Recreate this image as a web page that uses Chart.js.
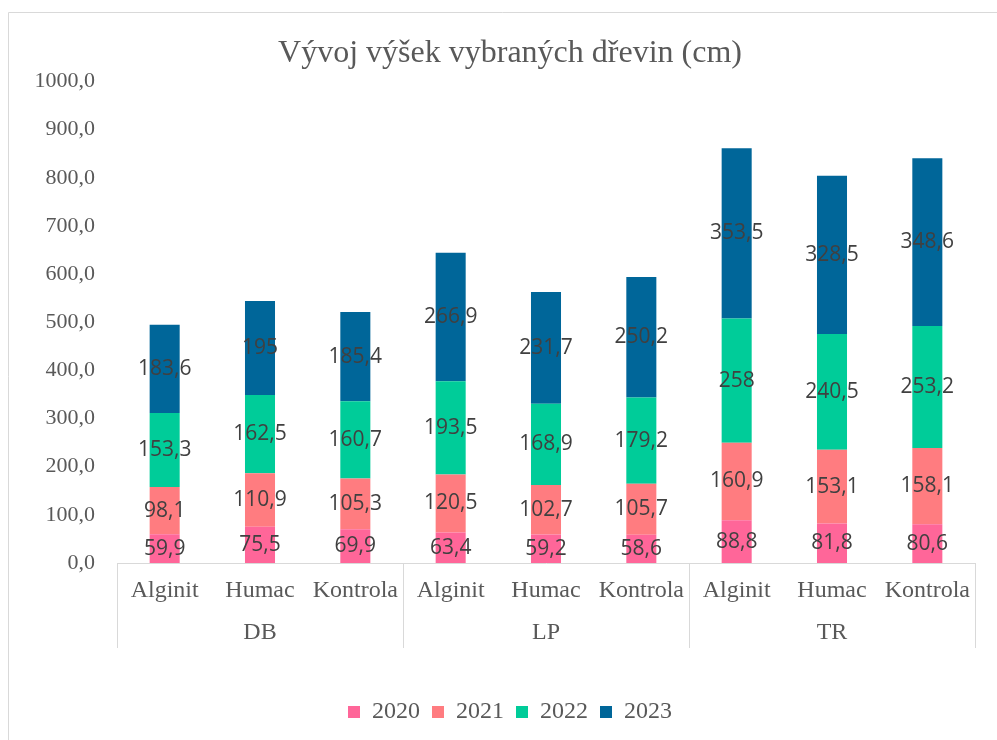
<!DOCTYPE html>
<html>
<head>
<meta charset="utf-8">
<script src="https://cdn.jsdelivr.net/npm/chart.js@4"></script>
<style>
  html, body { margin: 0; padding: 0; background: #fff; }
  #wrap { width: 997px; height: 740px; position: relative; }
</style>
</head>
<body>
<div id="wrap"><canvas id="vyskyChart"></canvas></div>
<script>
// categories (treatments) and species groups
const treatments = ['Alginit', 'Humac', 'Kontrola', 'Alginit', 'Humac', 'Kontrola', 'Alginit', 'Humac', 'Kontrola'];
const groups = ['DB', 'LP', 'TR'];
const years = ['2020', '2021', '2022', '2023'];

// height increments per year (cm)
const h2020 = [59.9, 75.5, 69.9, 63.4, 59.2, 58.6, 88.8, 81.8, 80.6];
const h2021 = [98.1, 110.9, 105.3, 120.5, 102.7, 105.7, 160.9, 153.1, 158.1];
const h2022 = [153.3, 162.5, 160.7, 193.5, 168.9, 179.2, 258, 240.5, 253.2];
const h2023 = [183.6, 195, 185.4, 266.9, 231.7, 250.2, 353.5, 328.5, 348.6];

const yTicks = [0, 100, 200, 300, 400, 500, 600, 700, 800, 900, 1000];

var col_pink = '#FF6699';
var col_salmon = '#FF7C80';
var col_green = '#00CC99';
var col_blue = '#006699';
var axisGray = '#d9d9d9';
var textGray = '#595959';
const serif = "'Liberation Serif', 'Times New Roman', serif";

const fmt = (v) => String(v).replace('.', ',');

// draws the value in the middle of every segment
const segmentLabels = {
    id: 'segmentLabels',
    afterDatasetsDraw(chart) {
        const ctx = chart.ctx;
        ctx.save();
        ctx.font = "21px 'Open Sans', sans-serif";
        ctx.fillStyle = '#404040';
        ctx.textAlign = 'center';
        ctx.textBaseline = 'middle';
        chart.data.datasets.forEach((ds, i) => {
            chart.getDatasetMeta(i).data.forEach((bar, j) => {
                ctx.fillText(fmt(ds.data[j]), bar.x, (bar.y + bar.base) / 2);
            });
        });
        ctx.restore();
    }
};

// y tick labels, group labels under the category axis, separator lines and outer frame
const groupAxis = {
    id: 'groupAxis',
    afterDraw(chart) {
        const ctx = chart.ctx;
        const x = chart.scales.x;
        const y = chart.scales.y;
        const area = chart.chartArea;
        const half = (x.getPixelForValue(1) - x.getPixelForValue(0)) / 2;
        const bottom = area.bottom + 85;
        ctx.save();
        ctx.strokeStyle = axisGray;
        ctx.lineWidth = 1;
        ctx.beginPath();
        for (let g = 0; g <= groups.length; g++) {
            let px;
            if (g < groups.length) px = x.getPixelForValue(g * 3) - half;
            else px = x.getPixelForValue(treatments.length - 1) + half;
            px = Math.round(px) + 0.5;
            ctx.moveTo(px, area.bottom);
            ctx.lineTo(px, bottom);
        }
        // frame of the chart object
        ctx.moveTo(8.5, chart.height);
        ctx.lineTo(8.5, 12.5);
        ctx.lineTo(chart.width, 12.5);
        ctx.stroke();

        ctx.fillStyle = textGray;
        ctx.textBaseline = 'middle';

        ctx.font = '22px ' + serif;
        ctx.textAlign = 'right';
        yTicks.forEach(v => {
            ctx.fillText(v.toFixed(1).replace('.', ','), area.left - 22, y.getPixelForValue(v));
        });

        ctx.font = '24px ' + serif;
        ctx.textAlign = 'center';
        groups.forEach((g, k) => {
            const cx = x.getPixelForValue(k * 3 + 1);
            ctx.fillText(g, cx, area.bottom + 70);
        });
        ctx.restore();
    }
};

const config = {
    type: 'bar',
    data: {
        labels: treatments,
        datasets: [
            { label: years[0], data: h2020, backgroundColor: col_pink },
            { label: years[1], data: h2021, backgroundColor: col_salmon },
            { label: years[2], data: h2022, backgroundColor: col_green },
            { label: years[3], data: h2023, backgroundColor: col_blue }
        ]
    },
    options: {
        responsive: true,
        maintainAspectRatio: false,
        animation: false,
        barPercentage: 0.63,
        categoryPercentage: 0.5,
        // left/right padding differ so title and legend sit at the frame centre
        layout: { padding: { left: 45, right: 22, top: 0, bottom: 6 } },
        plugins: {
            title: {
                display: true,
                text: 'Vývoj výšek vybraných dřevin (cm)',
                color: textGray,
                font: { family: serif, size: 32, weight: 'normal' },
                padding: { top: 34, bottom: 9 }
            },
            legend: {
                position: 'bottom',
                labels: {
                    boxWidth: 12,
                    boxHeight: 12,
                    padding: 12,
                    color: textGray,
                    font: { family: serif, size: 24 }
                }
            },
            tooltip: { enabled: false }
        },
        scales: {
            x: {
                stacked: true,
                grid: { display: false, drawTicks: false },
                border: { display: true, color: axisGray },
                ticks: {
                    padding: 13,
                    color: textGray,
                    font: { family: serif, size: 24 },
                    maxRotation: 0,
                    autoSkip: false
                },
                afterFit(scale) { scale.height = 125; }
            },
            y: {
                stacked: true,
                min: 0,
                max: 1000,
                grid: { display: false, drawTicks: false },
                border: { display: false },
                ticks: { display: false },
                afterFit(scale) { scale.width = 72; }
            }
        }
    },
    plugins: [segmentLabels, groupAxis]
};

new Chart(document.getElementById('vyskyChart').getContext('2d'), config);
</script>
</body>
</html>
